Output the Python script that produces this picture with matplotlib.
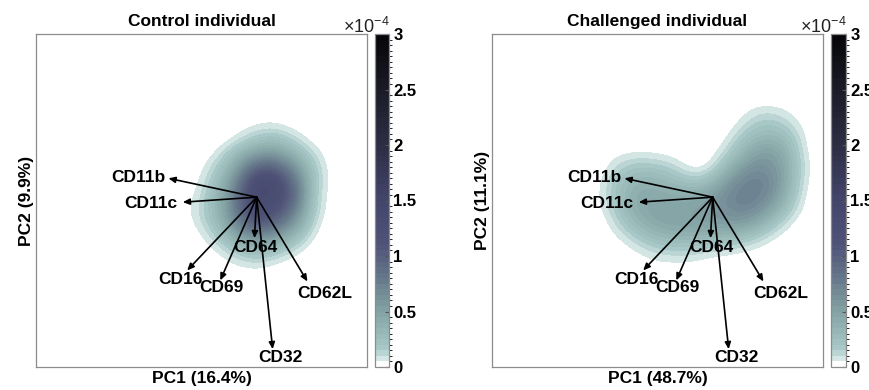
import numpy as np
import matplotlib
matplotlib.use('Agg')
import matplotlib.pyplot as plt
from matplotlib.colors import LinearSegmentedColormap, BoundaryNorm, ListedColormap
import matplotlib.cm as cm

plt.rcParams['font.family'] = ['Liberation Sans', 'DejaVu Sans']
plt.rcParams['mathtext.default'] = 'regular'

# ---------------- data ----------------
titles = ['Control individual', 'Challenged individual']
xlabels = ['PC1 (16.4%)', 'PC1 (48.7%)']
ylabels = ['PC2 (9.9%)', 'PC2 (11.1%)']

markers = ['CD11b', 'CD11c', 'CD16', 'CD69', 'CD64', 'CD32', 'CD62L']
load_x = [-0.80, -0.67, -0.63, -0.33, -0.02, 0.145, 0.46]
load_y = [0.17, -0.045, -0.66, -0.75, -0.37, -1.37, -0.76]

cbar_ticks = [0, 0.5, 1, 1.5, 2, 2.5, 3]
cbar_ticklabels = ['0', '0.5', '1', '1.5', '2', '2.5', '3']

# density (x 1e-4), rows from top (high PC2) to bottom
ctrl_x_range = (-0.75, 0.75)     # 13 columns
ctrl_y_range = (-0.75, 0.875)    # 14 rows
ctrl_density = [
    [0, 0, 0, 0, 0, 0, 0, 0, 0, 0, 0, 0, 0],
    [0, 0, 0, 0, 0, 0, 0, 0, 0, 0, 0, 0, 0],
    [0, 0, 0, 0, 0, 0.02, 0.05, 0.07, 0.04, 0.01, 0, 0, 0],
    [0, 0, 0, 0, 0.03, 0.12, 0.22, 0.27, 0.22, 0.10, 0.02, 0, 0],
    [0, 0, 0, 0.05, 0.20, 0.40, 0.55, 0.60, 0.50, 0.30, 0.12, 0.02, 0],
    [0, 0, 0.03, 0.15, 0.35, 0.70, 1.00, 1.05, 0.85, 0.55, 0.22, 0.04, 0],
    [0, 0, 0.06, 0.22, 0.50, 0.95, 1.30, 1.35, 1.10, 0.75, 0.25, 0.04, 0],
    [0, 0.02, 0.10, 0.30, 0.60, 1.05, 1.35, 1.30, 1.15, 0.80, 0.22, 0.03, 0],
    [0, 0.03, 0.12, 0.30, 0.60, 1.00, 1.30, 1.20, 1.00, 0.65, 0.20, 0.02, 0],
    [0, 0.02, 0.08, 0.25, 0.50, 0.85, 1.05, 0.95, 0.75, 0.45, 0.12, 0, 0],
    [0, 0, 0.03, 0.12, 0.30, 0.50, 0.60, 0.55, 0.40, 0.20, 0.04, 0, 0],
    [0, 0, 0, 0.03, 0.10, 0.20, 0.25, 0.20, 0.12, 0.04, 0, 0, 0],
    [0, 0, 0, 0, 0.02, 0.04, 0.05, 0.03, 0, 0, 0, 0, 0],
    [0, 0, 0, 0, 0, 0, 0, 0, 0, 0, 0, 0, 0],
]

chal_x_range = (-1.125, 0.875)   # 17 columns
chal_y_range = (-0.75, 1.0)      # 15 rows
chal_density = [
    [0, 0, 0, 0, 0, 0, 0, 0, 0, 0, 0, 0, 0, 0, 0, 0, 0],
    [0, 0, 0, 0, 0, 0, 0, 0, 0, 0, 0, 0, 0, 0, 0, 0, 0],
    [0, 0, 0, 0, 0, 0, 0, 0, 0, 0, 0, 0.02, 0.08, 0.10, 0.07, 0.02, 0],
    [0, 0, 0, 0, 0, 0, 0, 0, 0, 0, 0.01, 0.08, 0.18, 0.22, 0.18, 0.08, 0],
    [0, 0, 0, 0, 0, 0, 0, 0, 0, 0, 0.05, 0.20, 0.33, 0.38, 0.33, 0.15, 0],
    [0, 0, 0.03, 0.05, 0.05, 0.04, 0.02, 0, 0, 0.02, 0.15, 0.33, 0.50, 0.55, 0.45, 0.20, 0.01],
    [0, 0.02, 0.12, 0.20, 0.22, 0.20, 0.15, 0.05, 0.02, 0.10, 0.33, 0.55, 0.65, 0.62, 0.50, 0.22, 0.02],
    [0, 0.05, 0.20, 0.32, 0.38, 0.35, 0.30, 0.25, 0.22, 0.35, 0.55, 0.70, 0.75, 0.70, 0.50, 0.20, 0.01],
    [0, 0.06, 0.22, 0.38, 0.45, 0.45, 0.42, 0.42, 0.45, 0.55, 0.68, 0.75, 0.75, 0.65, 0.42, 0.15, 0],
    [0, 0.04, 0.18, 0.35, 0.45, 0.50, 0.50, 0.50, 0.52, 0.58, 0.65, 0.70, 0.65, 0.50, 0.28, 0.08, 0],
    [0, 0.01, 0.10, 0.25, 0.38, 0.45, 0.48, 0.50, 0.50, 0.52, 0.53, 0.52, 0.42, 0.26, 0.10, 0.01, 0],
    [0, 0, 0.03, 0.10, 0.20, 0.28, 0.32, 0.33, 0.32, 0.30, 0.28, 0.22, 0.15, 0.06, 0.01, 0, 0],
    [0, 0, 0, 0.02, 0.06, 0.10, 0.12, 0.12, 0.10, 0.07, 0.05, 0.03, 0.01, 0, 0, 0, 0],
    [0, 0, 0, 0, 0.01, 0.02, 0.02, 0.02, 0.01, 0, 0, 0, 0, 0, 0, 0, 0],
    [0, 0, 0, 0, 0, 0, 0, 0, 0, 0, 0, 0, 0, 0, 0, 0, 0],
]

# ---------------- style ----------------
cmap_nodes = [0, 0.05, 0.1, 0.15, 0.5, 0.8, 1.1, 1.5, 2.0, 2.5, 3.0]
cmap_cols = ['#ffffff', '#e0edec', '#c4dcda', '#a9cac8', '#83a2a4', '#66788a',
             '#505378', '#43456a', '#2d2e44', '#1b1b28', '#050508']
base = LinearSegmentedColormap.from_list(
    'dens', list(zip([v / 3.0 for v in cmap_nodes], cmap_cols)))
levels = np.linspace(0, 3, 61)
mids = (levels[:-1] + levels[1:]) / 2
band_cols = [base(m / 3.0) for m in mids]
band_cols[0] = (1, 1, 1, 1)
cmap = ListedColormap(band_cols)
cmap.set_under('white')
cmap.set_over(band_cols[-1])
norm = BoundaryNorm(levels, cmap.N)

W, H = 870, 390
fig = plt.figure(figsize=(W / 100, H / 100), dpi=100)

ax_boxes = [(36, 34, 331, 333), (492, 34, 331, 333)]
cb_boxes = [(375, 34, 14, 333), (831, 34, 15, 333)]
xlim = (-2.0, 1.0)
ylim = (-1.53, 1.47)
fs = 12.5

label_dx = [-0.27, -0.285, -0.06, 0.01, 0.01, 0.07, 0.16]
label_dy = [0.01, -0.01, -0.08, -0.06, -0.08, -0.075, -0.105]

grids = [(ctrl_density, ctrl_x_range, ctrl_y_range),
         (chal_density, chal_x_range, chal_y_range)]

def fbox(b):
    x, y, w, h = b
    return [x / W, (H - y - h) / H, w / W, h / H]

for i in range(2):
    ax = fig.add_axes(fbox(ax_boxes[i]))
    dens, xr, yr = grids[i]
    d = np.array(dens, dtype=float)
    ny, nx = d.shape
    dx = (xr[1] - xr[0]) / (nx - 1)
    dy = (yr[1] - yr[0]) / (ny - 1)
    ax.imshow(d, cmap=cmap, norm=norm, origin='upper', aspect='auto',
              interpolation='bicubic', interpolation_stage='data',
              extent=(xr[0] - dx / 2, xr[1] + dx / 2, yr[0] - dy / 2, yr[1] + dy / 2),
              zorder=1)
    ax.set_xlim(*xlim)
    ax.set_ylim(*ylim)
    ax.set_xticks([])
    ax.set_yticks([])
    for s in ax.spines.values():
        s.set_color('#8c8c8c')
        s.set_linewidth(0.9)

    for name, lx, ly, ddx, ddy in zip(markers, load_x, load_y, label_dx, label_dy):
        ax.annotate('', xy=(lx, ly), xytext=(0, 0),
                    arrowprops=dict(arrowstyle='-|>,head_length=0.5,head_width=0.22',
                                    color='black', lw=1.2, mutation_scale=8,
                                    shrinkA=0, shrinkB=0), zorder=3)
        ax.text(lx + ddx, ly + ddy, name, ha='center', va='center',
                fontsize=fs, fontweight='bold', color='black', zorder=4)

    ax.set_title(titles[i], fontsize=fs, fontweight='bold', pad=6)
    ax.set_xlabel(xlabels[i], fontsize=fs, fontweight='bold', labelpad=3)
    ax.set_ylabel(ylabels[i], fontsize=fs, fontweight='bold', labelpad=1.5)

    cax = fig.add_axes(fbox(cb_boxes[i]))
    sm = cm.ScalarMappable(norm=norm, cmap=cmap)
    cb = fig.colorbar(sm, cax=cax, ticks=cbar_ticks)
    cb.ax.set_yticklabels(cbar_ticklabels)
    cb.outline.set_edgecolor('#8c8c8c')
    cb.outline.set_linewidth(0.9)
    cax.tick_params(direction='in', length=3, width=0.8, color='#555555',
                    labelsize=12, pad=3)
    for t in cax.get_yticklabels():
        t.set_fontweight('bold')
    cax.text(1.05, 0.992, r'$\times10^{-4}$', transform=cax.transAxes,
             ha='right', va='bottom', fontsize=13, color='#222222')

fig.savefig('out.png', dpi=100)
